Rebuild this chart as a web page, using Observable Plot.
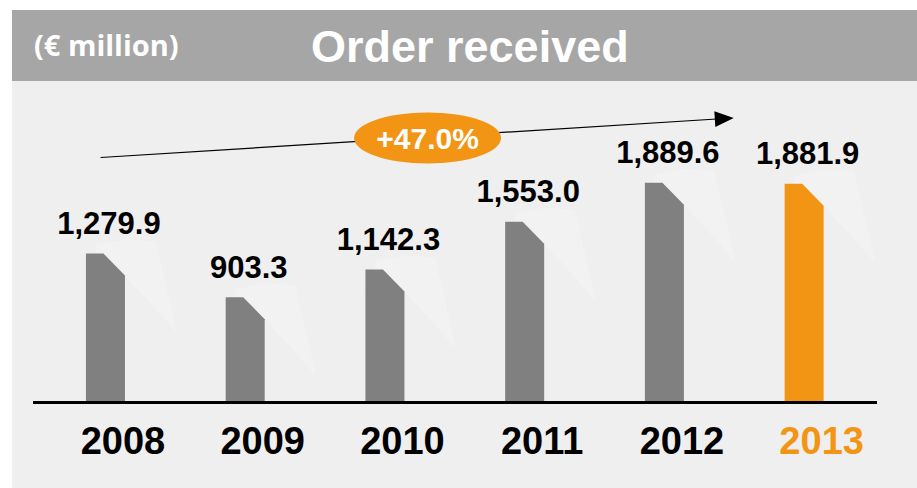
<!DOCTYPE html>
<html>
<head>
<meta charset="utf-8">
<script src="https://cdn.jsdelivr.net/npm/d3@7"></script>
<script src="https://cdn.jsdelivr.net/npm/@observablehq/plot@0.6"></script>
<style>
  html, body { margin: 0; padding: 0; background: #ffffff; }
  #wrap { position: relative; width: 917px; height: 488px; overflow: hidden; }
  #panel { position: absolute; left: 12px; top: 10px; width: 905px; height: 478px; background: #efefef; }
  #header { position: absolute; left: 12px; top: 10px; width: 905px; height: 71px; background: #a6a6a6; }
  #unit { position: absolute; left: 34px; top: 30px; font: bold 29px "Open Sans", "Liberation Sans", sans-serif; color: #ffffff; line-height: 1; white-space: nowrap; }
  #title { position: absolute; left: 311px; top: 24px; font: bold 45px "Liberation Sans", Arial, sans-serif; color: #ffffff; line-height: 1; white-space: nowrap; }
  #chart { position: absolute; left: 0; top: 0; }
</style>
</head>
<body>
<div id="wrap">
  <div id="panel"></div>
  <div id="header"></div>
  <div id="unit">(€ million)</div>
  <div id="title">Order received</div>
  <div id="chart"></div>
</div>
<script>
// ---- data ----
const years = [2008, 2009, 2010, 2011, 2012, 2013];
const orders = [1279.9, 903.3, 1142.3, 1553.0, 1889.6, 1881.9];
const highlightYear = 2013;
const growthLabel = "+47.0%";
// annotation anchors (in data units)
const trendFrom = {year: 2007.94, value: 2112};
const trendTo = {year: 2012.35, value: 2444};
const growthAt = {year: 2010.28, value: 2280};

// ---- styles ----
const GRAY = "#808080";
const ORANGE = "#f39514";
const pxPerYear = 139.7;
const pxPerUnit = 0.116;
const halfBar = 19.5 / pxPerYear;
const flatEnd = -2 / pxPerYear;
const cornerDrop = 22 / pxPerUnit;
const shift = -3 / pxPerYear;

const colorOf = y => (y === highlightYear ? ORANGE : GRAY);

// bar outlines (clipped top-right corner) built from the values
const barRows = [];
const glowRows = [];
years.forEach((y, i) => {
  const v = orders[i];
  const c = y + shift;
  barRows.push({year: y, x: c - halfBar, y1: 0, y2: v, fill: colorOf(y)});
  barRows.push({year: y, x: c + flatEnd, y1: 0, y2: v, fill: colorOf(y)});
  barRows.push({year: y, x: c + halfBar, y1: 0, y2: v - cornerDrop, fill: colorOf(y)});
  // faint light shape behind each bar
  glowRows.push({year: y, x: c - 10 / pxPerYear, y1: v, y2: v + 8 / pxPerUnit});
  glowRows.push({year: y, x: c + halfBar, y1: v - 22 / pxPerUnit, y2: v + 14 / pxPerUnit});
  glowRows.push({year: y, x: c + 50 / pxPerYear, y1: v - 55 / pxPerUnit, y2: v + 12 / pxPerUnit});
  glowRows.push({year: y, x: c + 70 / pxPerYear, y1: v - 78 / pxPerUnit, y2: v - 74 / pxPerUnit});
});

const fmt = d3.format(",.1f");

// arrowhead symbol (filled triangle, slightly tilted along the trend line)
const angle = Math.atan2(-(trendTo.value - trendFrom.value) * pxPerUnit, (trendTo.year - trendFrom.year) * pxPerYear);
const headSymbol = {
  draw(ctx) {
    const pts = [[-2, -8], [17, 0], [-2, 8]].map(([a, b]) => [
      a * Math.cos(angle) - b * Math.sin(angle),
      a * Math.sin(angle) + b * Math.cos(angle)
    ]);
    ctx.moveTo(pts[0][0], pts[0][1]);
    ctx.lineTo(pts[1][0], pts[1][1]);
    ctx.lineTo(pts[2][0], pts[2][1]);
    ctx.closePath();
  }
};
// ellipse symbol for the growth badge
const ellipseSymbol = {
  draw(ctx) {
    const rx = 73.5, ry = 25.5, k = 0.5523;
    ctx.moveTo(-rx, 0);
    ctx.bezierCurveTo(-rx, -ry * k, -rx * k, -ry, 0, -ry);
    ctx.bezierCurveTo(rx * k, -ry, rx, -ry * k, rx, 0);
    ctx.bezierCurveTo(rx, ry * k, rx * k, ry, 0, ry);
    ctx.bezierCurveTo(-rx * k, ry, -rx, ry * k, -rx, 0);
    ctx.closePath();
  }
};

const chart = Plot.plot({
  width: 917,
  height: 488,
  marginLeft: 33,
  marginRight: 40,
  marginTop: 54,
  marginBottom: 86,
  style: {background: "transparent", overflow: "visible", fontFamily: "'Liberation Sans', Arial, sans-serif"},
  x: {type: "linear", domain: [2007.46, 2013.5], axis: null},
  y: {domain: [0, 3000], axis: null},
  color: {type: "identity"},
  marks: [
    Plot.areaY(glowRows, {x: "x", y1: "y1", y2: "y2", z: "year", fill: "#ffffff", fillOpacity: 0.22}),
    Plot.areaY(barRows, {x: "x", y1: "y1", y2: "y2", z: "year", fill: "fill"}),
    Plot.ruleY([0], {stroke: "#000000", strokeWidth: 3}),
    Plot.text(years, {
      x: d => d, y: (d, i) => orders[i], text: (d, i) => fmt(orders[i]),
      dy: -20, lineAnchor: "bottom", fontSize: 31, fontWeight: "bold", fill: "#000000"
    }),
    Plot.text(years, {
      x: d => d, y: 0, text: d => String(d),
      dx: 14, dy: 51, lineAnchor: "bottom", fontSize: 38, fontWeight: "bold",
      fill: d => (d === highlightYear ? ORANGE : "#000000")
    }),
    Plot.link([0], {x1: trendFrom.year, y1: trendFrom.value, x2: trendTo.year, y2: trendTo.value, stroke: "#000000", strokeWidth: 1.2}),
    Plot.dot([0], {x: trendTo.year, y: trendTo.value, symbol: headSymbol, r: 10, fill: "#000000", stroke: "none"}),
    Plot.dot([0], {x: growthAt.year, y: growthAt.value, symbol: ellipseSymbol, r: 10, fill: ORANGE, stroke: "none"}),
    Plot.text([growthLabel], {x: growthAt.year, y: growthAt.value, text: d => d, fontSize: 30, fontWeight: "bold", fill: "#ffffff", dy: 1})
  ]
});
document.getElementById("chart").appendChild(chart);
</script>
</body>
</html>
